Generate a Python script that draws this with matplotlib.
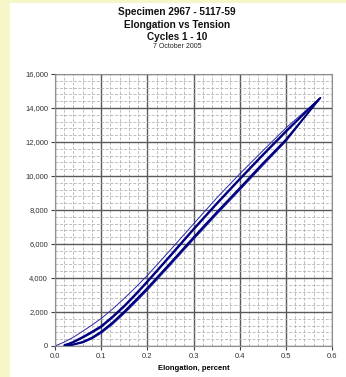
"""Elongation vs tension hysteresis plot, specimen 2967"""

import matplotlib
matplotlib.use('Agg')
import matplotlib.pyplot as plt
from matplotlib.patches import Rectangle
from matplotlib.ticker import MultipleLocator, FuncFormatter

plt.rcParams['font.family'] = ['Liberation Sans', 'DejaVu Sans']

# ############################################################################ #
# Data (elongation in percent, tension in lbf) #

# first loading, thin line from the origin
aX_load1 = [0.0, 0.02, 0.04, 0.06, 0.08, 0.10, 0.125, 0.15, 0.175, 0.20,
	0.25, 0.30, 0.35, 0.40, 0.45, 0.50, 0.575]
aY_load1 = [0, 230, 520, 870, 1230, 1620, 2180, 2800, 3460, 4150,
	5650, 7180, 8700, 10120, 11480, 12820, 14600]

# first unloading, thin line
aX_unld1 = [0.575, 0.50, 0.45, 0.40, 0.35, 0.30, 0.25, 0.20, 0.175, 0.15,
	0.125, 0.10, 0.08, 0.06, 0.04, 0.03, 0.02]
aY_unld1 = [14600, 12020, 10600, 9150, 7720, 6250, 4750, 3270, 2570, 1900,
	1270, 740, 410, 180, 50, 20, 15]

# later cycles, loading branch (cycle 2 and cycle 10)
aX_load2 = [0.02, 0.03, 0.04, 0.06, 0.08, 0.10, 0.125, 0.15, 0.175, 0.20,
	0.25, 0.30, 0.35, 0.40, 0.45, 0.50, 0.575]
aY_load2 = [60, 150, 260, 540, 850, 1180, 1750, 2380, 3080, 3820,
	5350, 6900, 8400, 9850, 11270, 12650, 14600]
aX_load10 = [0.022, 0.03, 0.04, 0.06, 0.08, 0.10, 0.125, 0.15, 0.175, 0.20,
	0.25, 0.30, 0.35, 0.40, 0.45, 0.50, 0.573]
aY_load10 = [60, 110, 210, 480, 780, 1110, 1680, 2310, 3010, 3750,
	5280, 6830, 8330, 9780, 11200, 12580, 14550]

# later cycles, unloading branch (cycle 2 and cycle 10)
aX_unld2 = [0.575, 0.50, 0.45, 0.40, 0.35, 0.30, 0.25, 0.20, 0.175, 0.15,
	0.125, 0.10, 0.08, 0.06, 0.04, 0.03, 0.02]
aY_unld2 = [14600, 12150, 10750, 9300, 7870, 6400, 4900, 3420, 2720, 2040,
	1400, 850, 500, 250, 100, 50, 30]
aX_unld10 = [0.573, 0.50, 0.45, 0.40, 0.35, 0.30, 0.25, 0.20, 0.175, 0.15,
	0.125, 0.10, 0.08, 0.06, 0.04, 0.03, 0.022]
aY_unld10 = [14550, 12080, 10680, 9230, 7800, 6330, 4830, 3350, 2650, 1970,
	1340, 800, 460, 220, 90, 50, 40]

lTitle = ['Specimen 2967 - 5117-59', 'Elongation vs Tension', 'Cycles 1 - 10']
sDate = '7 October 2005'

# ############################################################################ #

fig = plt.figure(figsize=(3.46, 3.77), dpi=100)
fig.patch.set_facecolor('white')

# yellow page border at top and left
fig.patches.append(Rectangle((0, 0), 10/346, 1, transform=fig.transFigure,
	facecolor='#f6f6c8', edgecolor='none', zorder=0))
fig.patches.append(Rectangle((0, 1 - 3/377), 1, 3/377, transform=fig.transFigure,
	facecolor='#f6f6c8', edgecolor='none', zorder=0))

ax = fig.add_axes([55/346, 1 - 346/377, 277/346, 272/377])

sNavy = '#000080'
ax.plot(aX_load1, aY_load1, '-', color='#2828a8', lw=0.7)
ax.plot(aX_unld1, aY_unld1, '-', color='#2828a8', lw=0.6)
for aX, aY in [(aX_load2, aY_load2), (aX_load10, aY_load10),
		(aX_unld2, aY_unld2), (aX_unld10, aY_unld10)]:
	ax.plot(aX, aY, '-', color=sNavy, lw=1.15, solid_capstyle='round',
		solid_joinstyle='round')

ax.set_xlim(0, 0.6)
ax.set_ylim(0, 16000)
ax.xaxis.set_major_locator(MultipleLocator(0.1))
ax.xaxis.set_minor_locator(MultipleLocator(0.02))
ax.yaxis.set_major_locator(MultipleLocator(2000))
ax.yaxis.set_minor_locator(MultipleLocator(400))
ax.xaxis.set_major_formatter(FuncFormatter(lambda v, p: '%.1f' % v))
ax.yaxis.set_major_formatter(FuncFormatter(lambda v, p: '{:,.0f}'.format(v)))

ax.grid(True, which='major', color='#5a5a5a', lw=1.0, ls='-')
ax.grid(True, which='minor', color='#b4b4b4', lw=0.6, ls=(0, (3.5, 2)))
ax.set_axisbelow(True)
for s in ax.spines.values():
	s.set_color('#909090')
	s.set_linewidth(0.8)

ax.tick_params(which='major', direction='out', length=3, width=0.8,
	color='#404040', labelsize=5.5, labelcolor='#333333', pad=2)
ax.tick_params(which='minor', length=0)

ax.set_xlabel('Elongation, percent', fontsize=5.5, fontweight='bold', labelpad=4)
ax.set_ylabel('Tension, lbf', fontsize=5.5, fontweight='bold', labelpad=12)

for i, s in enumerate(lTitle):
	fig.text(177/346, 1 - (12 + 12.5*i)/377, s, ha='center', va='center',
		fontsize=7.2, fontweight='bold', color='#111111')
fig.text(177/346, 1 - 47/377, sDate, ha='center', va='center', fontsize=5,
	color='#222222')

fig.savefig('out.png', dpi=100)
